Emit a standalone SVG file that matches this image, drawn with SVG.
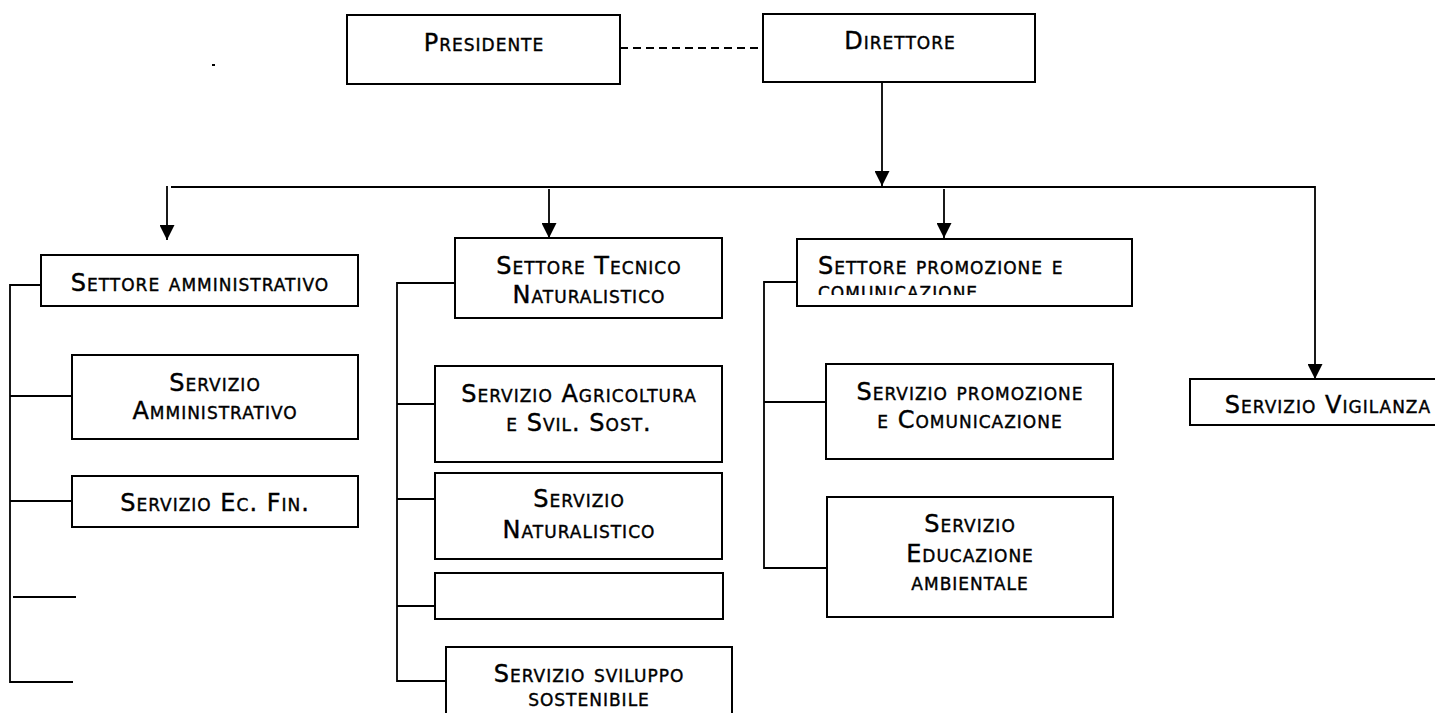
<svg xmlns="http://www.w3.org/2000/svg" width="1435" height="713" viewBox="0 0 1435 713">
<style>
.box{fill:#fff;stroke:#000;stroke-width:2}
.t{font-family:"DejaVu Sans",Verdana,sans-serif;font-size:24px;font-variant:small-caps;letter-spacing:1px;fill:#000;stroke:#000;stroke-width:0.4}
.c{text-anchor:middle}
.ln{stroke:#000;stroke-width:1.8;fill:none}
.dash{stroke-dasharray:8 5}
.arr{marker-end:url(#ah)}
</style>
<defs>
<marker id="ah" markerUnits="userSpaceOnUse" markerWidth="15" markerHeight="15" viewBox="0 0 15 15" refX="15" refY="7.5" orient="auto">
<path d="M0,0 L15,7.5 L0,15 z" fill="#000"/>
</marker>
<clipPath id="clipPromo"><rect x="797" y="239" width="335" height="56"/></clipPath>
</defs>
<rect x="212" y="64" width="3" height="2" fill="#000"/>
<g id="connectors">
<line class="ln dash" x1="620" y1="48" x2="763" y2="48"/>
<line class="ln arr" x1="882" y1="82" x2="882" y2="186"/>
<polyline class="ln" points="171,187 1315,187 1315,300"/>
<line class="ln arr" x1="1315" y1="290" x2="1315" y2="379"/>
<line class="ln arr" x1="167" y1="186" x2="167" y2="240"/>
<line class="ln arr" x1="549" y1="189" x2="549" y2="238"/>
<line class="ln arr" x1="944" y1="189" x2="944" y2="238"/>
<polyline class="ln" points="41,285 10,285 10,682 73,682"/>
<line class="ln" x1="10" y1="396" x2="72" y2="396"/>
<line class="ln" x1="10" y1="501" x2="72" y2="501"/>
<line class="ln" x1="13" y1="597" x2="76" y2="597"/>
<polyline class="ln" points="455,283 397,283 397,681 446,681"/>
<line class="ln" x1="397" y1="404" x2="435" y2="404"/>
<line class="ln" x1="397" y1="499" x2="435" y2="499"/>
<line class="ln" x1="397" y1="606" x2="435" y2="606"/>
<polyline class="ln" points="797,282 764,282 764,568 827,568"/>
<line class="ln" x1="764" y1="402" x2="826" y2="402"/>
</g>
<g id="presidente">
<rect class="box" x="347" y="15" width="273" height="69"/>
<text class="t c" x="484" y="51">Presidente</text>
</g>
<g id="direttore">
<rect class="box" x="763" y="14" width="272" height="68"/>
<text class="t c" x="900" y="49">Direttore</text>
</g>
<g id="settore-amministrativo">
<rect class="box" x="41" y="255" width="317" height="51"/>
<text class="t c" x="200" y="291">Settore amministrativo</text>
</g>
<g id="settore-tecnico">
<rect class="box" x="455" y="238" width="267" height="80"/>
<text class="t c" x="589" y="274">Settore Tecnico</text>
<text class="t c" x="589" y="303">Naturalistico</text>
</g>
<g id="settore-promozione">
<rect class="box" x="797" y="239" width="335" height="67"/>
<text class="t" x="818" y="274">Settore promozione e</text>
<text class="t" x="818" y="299" clip-path="url(#clipPromo)">comunicazione</text>
</g>
<g id="servizio-amministrativo">
<rect class="box" x="72" y="355" width="286" height="84"/>
<text class="t c" x="215" y="391">Servizio</text>
<text class="t c" x="215" y="419">Amministrativo</text>
</g>
<g id="servizio-ec-fin">
<rect class="box" x="72" y="476" width="286" height="51"/>
<text class="t c" x="215" y="511">Servizio Ec. Fin.</text>
</g>
<g id="servizio-agricoltura">
<rect class="box" x="435" y="366" width="287" height="96"/>
<text class="t c" x="579" y="402">Servizio Agricoltura</text>
<text class="t c" x="579" y="431">e Svil. Sost.</text>
</g>
<g id="servizio-naturalistico">
<rect class="box" x="435" y="473" width="287" height="86"/>
<text class="t c" x="579" y="507">Servizio</text>
<text class="t c" x="579" y="538">Naturalistico</text>
</g>
<g id="servizio-vuoto">
<rect class="box" x="435" y="573" width="288" height="46"/>
</g>
<g id="servizio-sviluppo">
<rect class="box" x="446" y="647" width="286" height="80"/>
<text class="t c" x="589" y="682">Servizio sviluppo</text>
<text class="t c" x="589" y="706">sostenibile</text>
</g>
<g id="servizio-promozione">
<rect class="box" x="826" y="364" width="287" height="95"/>
<text class="t c" x="970" y="400">Servizio promozione</text>
<text class="t c" x="970" y="428">e Comunicazione</text>
</g>
<g id="servizio-educazione">
<rect class="box" x="827" y="497" width="286" height="120"/>
<text class="t c" x="970" y="532">Servizio</text>
<text class="t c" x="970" y="562">Educazione</text>
<text class="t c" x="970" y="590">ambientale</text>
</g>
<g id="servizio-vigilanza">
<rect class="box" x="1190" y="379" width="275" height="46"/>
<text class="t c" x="1328" y="413">Servizio Vigilanza</text>
</g>
</svg>
